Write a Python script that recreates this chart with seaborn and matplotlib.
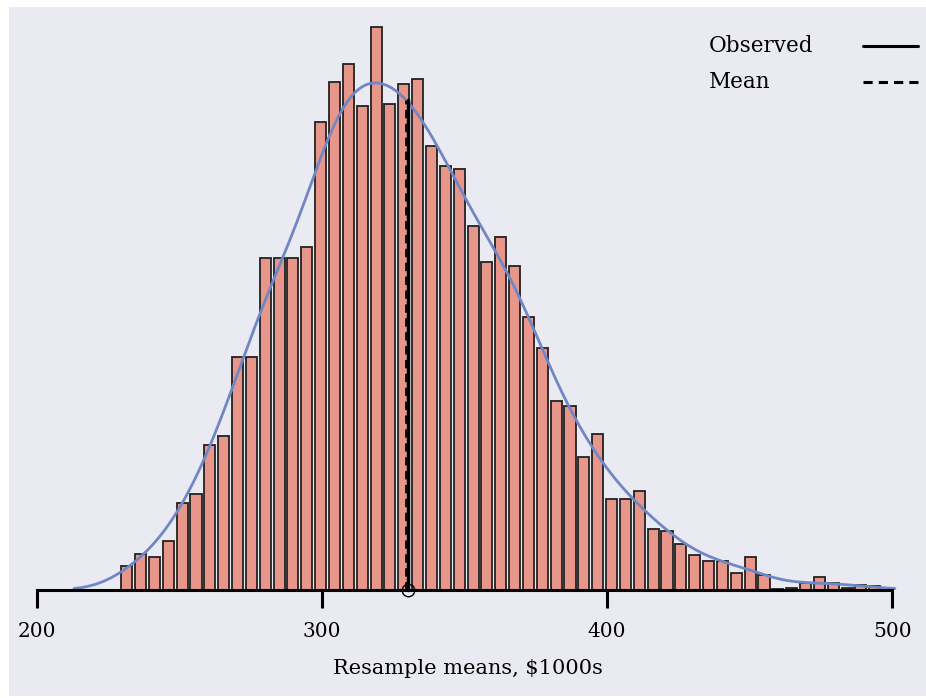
import matplotlib
matplotlib.use('Agg')
import matplotlib.pyplot as plt
import seaborn as sns
import numpy as np
import pandas as pd

# Bootstrap distribution of resample means (bin counts)
counts = [24, 36, 33, 49, 87, 96, 145, 154, 233, 233,
          332, 332, 332, 343, 468, 508, 526, 484, 563, 486,
          506, 511, 444, 424, 421, 364, 328, 353, 324, 273,
          242, 189, 184, 133, 156, 91, 91, 99, 61, 59,
          46, 35, 29, 29, 17, 33, 15, 1, 2, 7,
          13, 7, 2, 5, 4]
bin_start = 229.07
bin_width = 4.86
observed = 330.2
mean_value = 329.6
tick_values = [200, 300, 400, 500]
legend_labels = ['Observed', 'Mean']
legend_styles = ['-', (0, (3, 2))]
x_label = 'Resample means, \\$1000s'

bar_color = '#E8968A'
kde_color = '#6F87C6'

edges = bin_start + bin_width * np.arange(len(counts) + 1)
centers = (edges[:-1] + edges[1:]) / 2
df = pd.DataFrame({'mean': centers, 'count': counts})

sns.set_theme(style='dark')
plt.rcParams['font.family'] = ['DejaVu Serif']

fig = plt.figure(figsize=(9.26, 6.98), dpi=100)
ax = fig.add_axes([0.0097, 0.003, 0.9903, 0.987])

sns.histplot(data=df, x='mean', weights='count', bins=list(edges), shrink=0.8,
             kde=True, kde_kws=dict(cut=5, clip=(213, 501), bw_adjust=0.45),
             color=bar_color, alpha=1, edgecolor='#222222', linewidth=1.3,
             ax=ax)
kde_line = ax.lines[-1]
kde_line.set_color(kde_color)
kde_line.set_linewidth(2)

line_top = 0.87 * max(counts)
ax.plot([observed, observed], [0, line_top], color='black', lw=2.5)
ax.plot([mean_value, mean_value], [0, line_top], color='black', lw=2,
        ls=legend_styles[1])
ax.plot([observed], [0], marker='o', ms=9, mfc='none', mec='black', mew=1,
        zorder=5, clip_on=False)

ax.set_xlim(190.2, 511.9)
ax.set_ylim(-106, 583)

for side in ['left', 'top', 'right']:
    ax.spines[side].set_visible(False)
ax.spines['bottom'].set_position(('data', 0))
ax.spines['bottom'].set_bounds(200, 500)
ax.spines['bottom'].set_color('black')
ax.spines['bottom'].set_linewidth(2.2)

ax.set_xticks(tick_values)
ax.set_yticks([])
ax.tick_params(axis='x', bottom=True, direction='out', length=13, width=2.2,
               color='black', labelsize=14.5, pad=10, labelcolor='black')
ax.set_ylabel('')
ax.set_xlabel(x_label, fontsize=15, color='black', labelpad=13)

# legend: labels left-aligned, line samples on the right
for i, (lab, sty) in enumerate(zip(legend_labels, legend_styles)):
    y = 0.943 - i * 0.052
    ax.text(0.7634, y, lab, transform=ax.transAxes, fontsize=15.5,
            ha='left', va='center', color='black')
    ax.plot([0.9313, 0.9913], [y, y], transform=ax.transAxes, color='black',
            lw=2.2, ls=sty, clip_on=False)

fig.savefig('out.png', dpi=100, facecolor='white')
